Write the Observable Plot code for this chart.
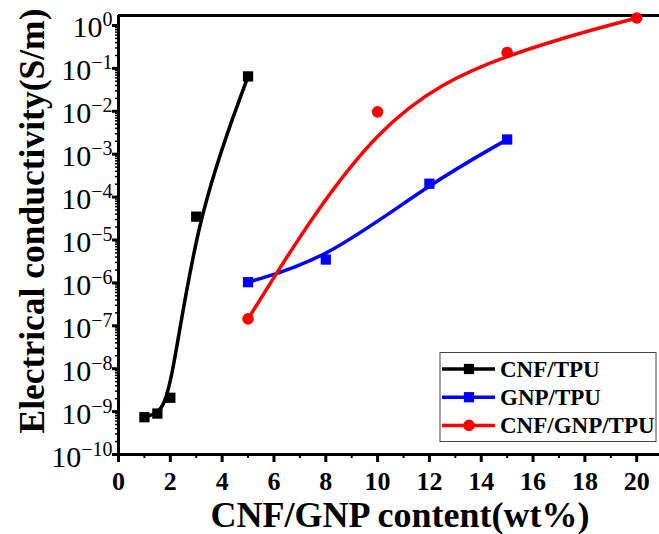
<!DOCTYPE html>
<html><head><meta charset="utf-8">
<script src="https://cdn.jsdelivr.net/npm/d3@7"></script>
<script src="https://cdn.jsdelivr.net/npm/@observablehq/plot@0.6"></script>
<style>html,body{margin:0;padding:0;background:#fff;overflow:hidden}</style>
</head><body><div id="chart"></div>
<script>
const seriesNames = ["CNF/TPU", "GNP/TPU", "CNF/GNP/TPU"];
const seriesColors = ["#000000", "#0000ff", "#ff0000"];
const seriesSymbols = ["square", "square", "circle"];

const cnfX = [1, 1.5, 2, 3, 5];
const cnfY = [7.4e-10, 9.0e-10, 2.1e-9, 3.5e-5, 0.065];
const gnpX = [5, 8, 12, 15];
const gnpY = [1.04e-6, 3.5e-6, 2.05e-4, 2.2e-3];
const hybX = [5, 10, 15, 20];
const hybY = [1.45e-7, 9.7e-3, 0.235, 1.5];

const xTicks = [0, 2, 4, 6, 8, 10, 12, 14, 16, 18, 20];
const xMinorTicks = [1, 3, 5, 7, 9, 11, 13, 15, 17, 19];
const yExponents = [-10, -9, -8, -7, -6, -5, -4, -3, -2, -1, 0];
const xLabel = "CNF/GNP content(wt%)";
const yLabel = "Electrical conductivity(S/m)";

const yTicks = yExponents.map(e => Math.pow(10, e));
const yMinorTicks = [];
yExponents.slice(0, -1).forEach(e => { for (let m = 2; m <= 9; m++) yMinorTicks.push(m * Math.pow(10, e)); });

const data = [];
[[cnfX, cnfY], [gnpX, gnpY], [hybX, hybY]].forEach(([xs, ys], i) => {
  xs.forEach((x, j) => data.push({x, y: ys[j], series: seriesNames[i]}));
});

const yTop = 1.71, yBottom = 1e-10;

const svg = Plot.plot({
  width: 659, height: 534,
  marginLeft: 118, marginRight: 0, marginTop: 15, marginBottom: 80,
  style: {fontFamily: "'Liberation Serif', 'Times New Roman', serif", background: "#fff", color: "#000"},
  x: {domain: [0, 20.88], label: null},
  y: {type: "log", domain: [yBottom, yTop], label: null},
  color: {domain: seriesNames, range: seriesColors},
  symbol: {domain: seriesNames, range: seriesSymbols},
  marks: [
    Plot.axisX(xMinorTicks, {tickSize: 4, strokeWidth: 2, tickFormat: () => ""}),
    Plot.axisX(xTicks, {tickSize: 8, strokeWidth: 3, tickPadding: 9}),
    Plot.axisY(yMinorTicks, {tickSize: 3, strokeWidth: 1.5, tickFormat: () => ""}),
    Plot.axisY(yTicks, {tickSize: 6, strokeWidth: 3, tickPadding: 0,
      tickFormat: v => "10^" + Math.round(Math.log10(v))}),
    Plot.ruleX([0], {strokeWidth: 3}),
    Plot.ruleY([yBottom], {strokeWidth: 3}),
    Plot.ruleY([yTop], {strokeWidth: 3}),
    Plot.line(data, {x: "x", y: "y", z: "series", stroke: "series", curve: "basis", strokeWidth: 3.5}),
    Plot.dot(data, {x: "x", y: "y", fill: "series", symbol: "series", r: 5.8})
  ]
});
document.getElementById("chart").appendChild(svg);

const s = d3.select(svg);
// x tick labels
s.selectAll('g[aria-label="x-axis tick label"]').attr("font-size", 26).attr("font-weight", "bold");
// y tick labels with superscript exponents
s.selectAll('g[aria-label="y-axis tick label"]').attr("font-size", 30);
s.selectAll('g[aria-label="y-axis tick label"] text').each(function () {
  const t = this.textContent;
  if (!t.includes("^")) return;
  const e = t.split("^")[1].replace("-", "\u2212");
  const el = d3.select(this);
  el.attr("dy", null).attr("y", (+el.attr("y") || 0) + 12);
  el.text(null);
  el.append("tspan").text("10");
  el.append("tspan").attr("dy", -11).attr("font-size", 20).text(e);
});

// axis titles
s.append("text").attr("x", 400).attr("y", 527).attr("text-anchor", "middle")
  .attr("font-size", 36).attr("font-weight", "bold").text(xLabel);
s.append("text").attr("transform", "translate(44,221) rotate(-90)").attr("text-anchor", "middle")
  .attr("font-size", 35.5).attr("font-weight", "bold").text(yLabel);

// legend
const lg = s.append("g").attr("text-anchor", "start");
lg.append("rect").attr("x", 440).attr("y", 352.5).attr("width", 216).attr("height", 89)
  .attr("fill", "#fff").attr("stroke", "#444").attr("stroke-width", 1);
seriesNames.forEach((name, i) => {
  const cy = 369 + i * 28.2;
  lg.append("line").attr("x1", 442).attr("x2", 495).attr("y1", cy).attr("y2", cy)
    .attr("stroke", seriesColors[i]).attr("stroke-width", 3.5);
  const sym = seriesSymbols[i] === "square" ? d3.symbolSquare : d3.symbolCircle;
  lg.append("path").attr("d", d3.symbol(sym, 5.8 * 5.8 * Math.PI)())
    .attr("transform", `translate(469,${cy})`).attr("fill", seriesColors[i]);
  lg.append("text").attr("x", 500).attr("y", cy + 8).attr("font-size", 23)
    .attr("font-weight", "bold").attr("text-anchor", "start").text(name);
});
</script>
</body></html>
